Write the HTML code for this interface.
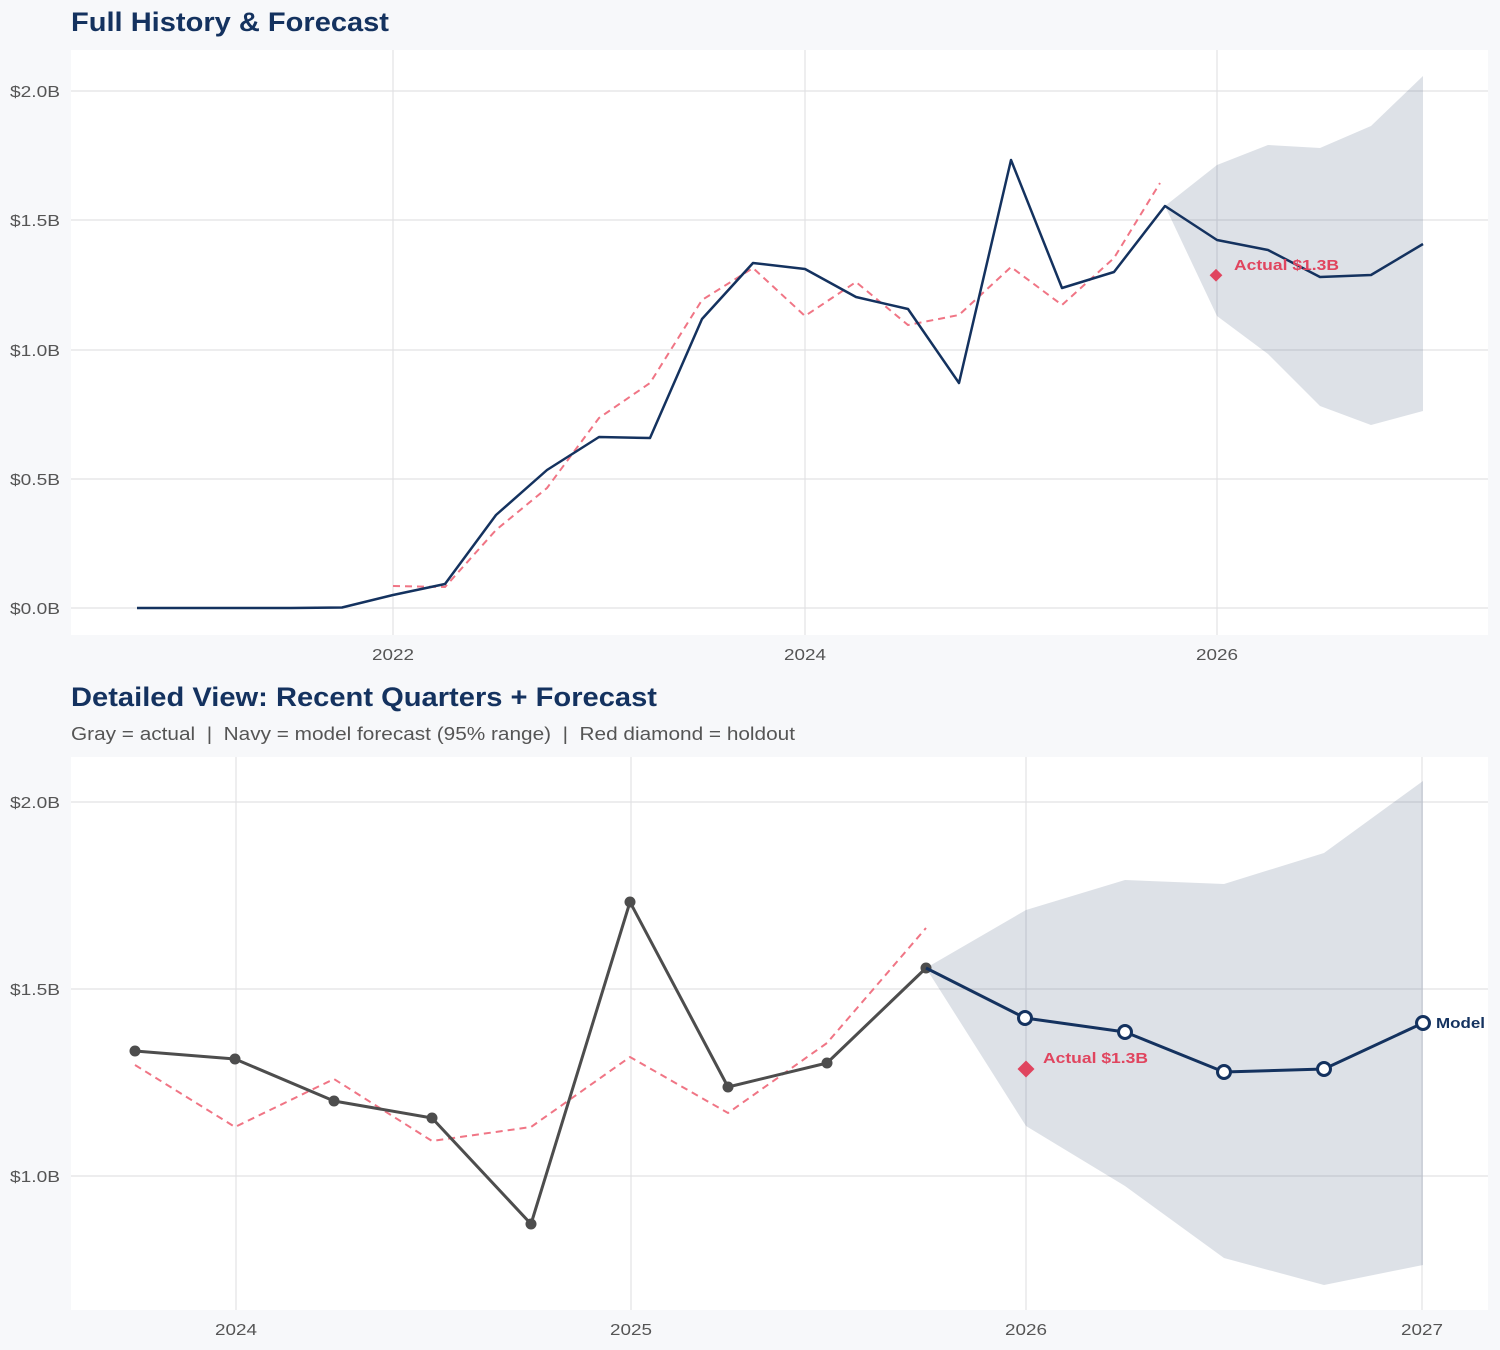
<!DOCTYPE html>
<html><head><meta charset="utf-8"><style>
html,body{margin:0;padding:0;background:#f7f8fa;}
svg{display:block;font-family:"Liberation Sans",sans-serif;}
text{white-space:pre;}
</style></head><body>
<svg width="1500" height="1350" viewBox="0 0 1500 1350">
<rect width="1500" height="1350" fill="#f7f8fa"/>
<!-- TOP -->
<text x="71" y="31" font-size="27" font-weight="bold" fill="#14325f" textLength="318" lengthAdjust="spacingAndGlyphs">Full History &amp; Forecast</text>
<rect x="71" y="50" width="1417" height="585" fill="#fff"/>
<g stroke="#e2e2e4" stroke-width="1.2">
<line x1="71" x2="1488" y1="91" y2="91"/><line x1="71" x2="1488" y1="220" y2="220"/>
<line x1="71" x2="1488" y1="350" y2="350"/><line x1="71" x2="1488" y1="479" y2="479"/>
<line x1="71" x2="1488" y1="608" y2="608"/>
<line x1="393" x2="393" y1="50" y2="635"/><line x1="805" x2="805" y1="50" y2="635"/><line x1="1217" x2="1217" y1="50" y2="635"/>
</g>
<g font-size="16" fill="#555">
<text x="10" y="97" textLength="50" lengthAdjust="spacingAndGlyphs">$2.0B</text><text x="10" y="226" textLength="50" lengthAdjust="spacingAndGlyphs">$1.5B</text><text x="10" y="356" textLength="50" lengthAdjust="spacingAndGlyphs">$1.0B</text><text x="10" y="485" textLength="50" lengthAdjust="spacingAndGlyphs">$0.5B</text><text x="10" y="614" textLength="50" lengthAdjust="spacingAndGlyphs">$0.0B</text>
</g>
<g font-size="16" fill="#555">
<text x="372" y="660" textLength="42" lengthAdjust="spacingAndGlyphs">2022</text><text x="784" y="660" textLength="42" lengthAdjust="spacingAndGlyphs">2024</text><text x="1196" y="660" textLength="42" lengthAdjust="spacingAndGlyphs">2026</text>
</g>
<polygon fill="#4a5f7e" fill-opacity="0.19" points="1165,206 1217,165 1268,145 1320,148 1371,126 1423,76 1423,411 1371,425 1320,406 1268,354 1217,316 1165,206"/>
<polyline fill="none" stroke="#f07585" stroke-width="2" stroke-dasharray="7,5" points="393,586 445,587 496,530 547,488 599,418 650,383 702,300 753,268 805,316 856,282 908,325 959,315 1011,267 1062,305 1114,258 1160,183"/>
<polyline fill="none" stroke="#14325f" stroke-width="2.5" stroke-linejoin="round" points="137,608 188,608 240,608 291,608 342,607.5 393,595 445,584 496,515 547,470 599,437 650,438 702,319 753,263 805,269 856,297 908,309 959,383 1011,160 1062,288 1114,272 1165,206 1217,240 1268,250 1320,277 1371,275 1423,244"/>
<rect x="1211" y="271" width="9" height="9" fill="#e0455f" transform="rotate(45 1216 276)"/>
<text x="1234" y="270" font-size="15" font-weight="bold" fill="#e0455f" textLength="105" lengthAdjust="spacingAndGlyphs">Actual $1.3B</text>
<!-- BOTTOM -->
<text x="71" y="706" font-size="27" font-weight="bold" fill="#14325f" textLength="586" lengthAdjust="spacingAndGlyphs">Detailed View: Recent Quarters + Forecast</text>
<text x="71" y="740" font-size="18" fill="#555" textLength="724" lengthAdjust="spacingAndGlyphs">Gray = actual  |  Navy = model forecast (95% range)  |  Red diamond = holdout</text>
<rect x="71" y="757" width="1417" height="553" fill="#fff"/>
<g stroke="#e2e2e4" stroke-width="1.2">
<line x1="71" x2="1488" y1="802" y2="802"/><line x1="71" x2="1488" y1="989" y2="989"/><line x1="71" x2="1488" y1="1176" y2="1176"/>
<line x1="236" x2="236" y1="757" y2="1310"/><line x1="631" x2="631" y1="757" y2="1310"/><line x1="1026" x2="1026" y1="757" y2="1310"/><line x1="1422" x2="1422" y1="757" y2="1310"/>
</g>
<g font-size="16" fill="#555">
<text x="10" y="808" textLength="50" lengthAdjust="spacingAndGlyphs">$2.0B</text><text x="10" y="995" textLength="50" lengthAdjust="spacingAndGlyphs">$1.5B</text><text x="10" y="1182" textLength="50" lengthAdjust="spacingAndGlyphs">$1.0B</text>
</g>
<g font-size="16" fill="#555">
<text x="215" y="1335" textLength="42" lengthAdjust="spacingAndGlyphs">2024</text><text x="610" y="1335" textLength="42" lengthAdjust="spacingAndGlyphs">2025</text><text x="1005" y="1335" textLength="42" lengthAdjust="spacingAndGlyphs">2026</text><text x="1401" y="1335" textLength="42" lengthAdjust="spacingAndGlyphs">2027</text>
</g>
<polygon fill="#4a5f7e" fill-opacity="0.19" points="926,968 1026,910 1125,880 1224,884 1324,853 1423,781 1423,1265 1324,1285 1224,1258 1125,1186 1026,1126 926,968"/>
<polyline fill="none" stroke="#f07585" stroke-width="2" stroke-dasharray="7,5" points="135,1065 235,1127 334,1079 432,1141 531,1127 630,1057 728,1113 827,1043 926,928"/>
<polyline fill="none" stroke="#4d4d4d" stroke-width="3" stroke-linejoin="round" points="135,1051 235,1059 334,1101 432,1118 531,1224 630,902 728,1087 827,1063 926,968"/>
<g fill="#4d4d4d">
<circle cx="135" cy="1051" r="5.5"/><circle cx="235" cy="1059" r="5.5"/><circle cx="334" cy="1101" r="5.5"/><circle cx="432" cy="1118" r="5.5"/><circle cx="531" cy="1224" r="5.5"/><circle cx="630" cy="902" r="5.5"/><circle cx="728" cy="1087" r="5.5"/><circle cx="827" cy="1063" r="5.5"/><circle cx="926" cy="968" r="5.5"/>
</g>
<polyline fill="none" stroke="#14325f" stroke-width="3" stroke-linejoin="round" points="926,968 1025,1018 1125,1032 1224,1072 1324,1069 1423,1023"/>
<g fill="#fff" stroke="#14325f" stroke-width="3">
<circle cx="1025" cy="1018" r="6.5"/><circle cx="1125" cy="1032" r="6.5"/><circle cx="1224" cy="1072" r="6.5"/><circle cx="1324" cy="1069" r="6.5"/><circle cx="1423" cy="1023" r="6.5"/>
</g>
<text x="1436" y="1028" font-size="15" font-weight="bold" fill="#14325f" textLength="49" lengthAdjust="spacingAndGlyphs">Model</text>
<rect x="1020" y="1063" width="12" height="12" fill="#e0455f" transform="rotate(45 1026 1069)"/>
<text x="1043" y="1063" font-size="15" font-weight="bold" fill="#e0455f" textLength="105" lengthAdjust="spacingAndGlyphs">Actual $1.3B</text>
</svg>
</body></html>
